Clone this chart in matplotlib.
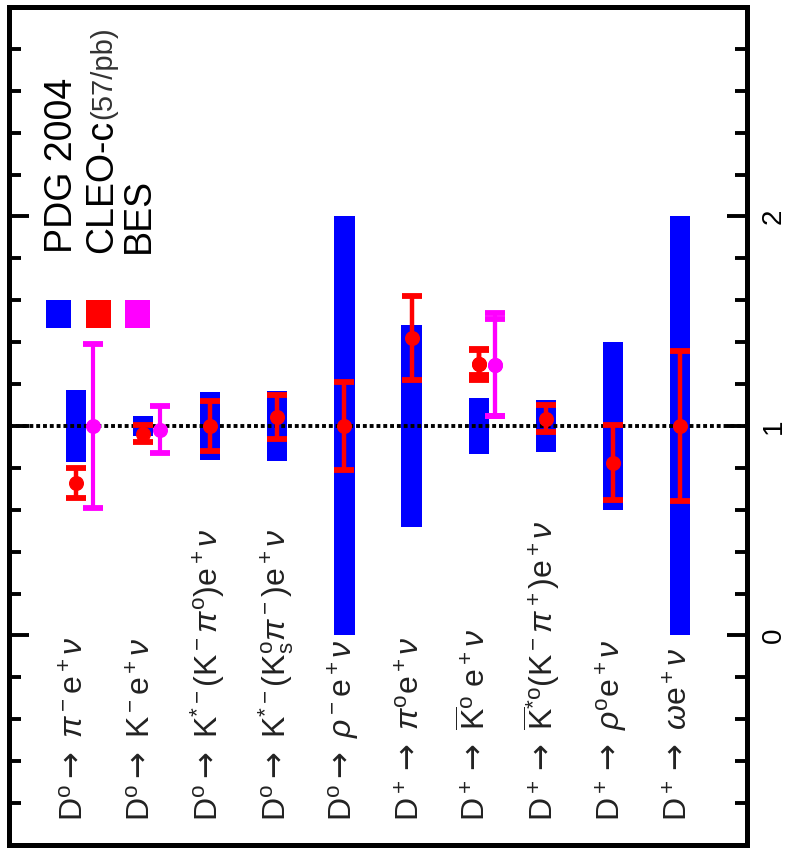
import numpy as np
import matplotlib
matplotlib.use("Agg")
import matplotlib.pyplot as plt

plt.rcParams['font.family'] = ['Liberation Sans', 'DejaVu Sans']
plt.rcParams['mathtext.fontset'] = 'custom'
plt.rcParams['mathtext.rm'] = 'Liberation Sans'
plt.rcParams['mathtext.it'] = 'Liberation Sans:italic'
plt.rcParams['mathtext.sf'] = 'DejaVu Sans'

# decay modes (one column each)
modes = [
    r'$\mathrm{D^o\mathsf{\rightarrow}\ \mathit{\pi}^-e^+\mathit{\nu}}$',
    r'$\mathrm{D^o\mathsf{\rightarrow}\ K^-e^+\mathit{\nu}}$',
    r'$\mathrm{D^o\mathsf{\rightarrow}\ K^{*-}(K^-\mathit{\pi}^o)e^+\mathit{\nu}}$',
    r'$\mathrm{D^o\mathsf{\rightarrow}\ K^{*-}(K^o_s\mathit{\pi}^-)e^+\mathit{\nu}}$',
    r'$\mathrm{D^o\mathsf{\rightarrow}\ \mathit{\rho}^-e^+\mathit{\nu}}$',
    r'$\mathrm{D^+\mathsf{\rightarrow}\ \mathit{\pi}^oe^+\mathit{\nu}}$',
    r'$\mathrm{D^+\mathsf{\rightarrow}\ \overline{K}^o\ e^+\mathit{\nu}}$',
    r'$\mathrm{D^+\mathsf{\rightarrow}\ \overline{K}^{*o}(K^-\mathit{\pi}^+)e^+\mathit{\nu}}$',
    r'$\mathrm{D^+\mathsf{\rightarrow}\ \mathit{\rho}^oe^+\mathit{\nu}}$',
    r'$\mathrm{D^+\mathsf{\rightarrow}\ \mathit{\omega} e^+\mathit{\nu}}$',
]

# PDG 2004 (normalised to 1)
pdg_val = [1.0, 1.0, 1.0, 1.0, 1.0, 1.0, 1.0, 1.0, 1.0, 1.0]
pdg_err = [0.17, 0.05, 0.16, 0.165, 1.0, 0.48, 0.135, 0.125, 0.40, 1.0]

# CLEO-c (57/pb)
cleo_val = [0.73, 0.963, 1.0, 1.045, 1.0, 1.42, 1.297, 1.035, 0.825, 1.0]
cleo_lo = [0.075, 0.04, 0.12, 0.105, 0.21, 0.20, 0.076, 0.065, 0.18, 0.36]
cleo_hi = [0.068, 0.04, 0.12, 0.105, 0.21, 0.20, 0.072, 0.065, 0.18, 0.36]
# inner (statistical) error on the Kbar0 mode
cleo_k0_inner = [0.052, 0.066]

# BES
bes_mode = [1, 2, 7]
bes_val = [1.0, 0.983, 1.289]
bes_lo = [0.39, 0.113, 0.24]
bes_hi = [0.39, 0.111, 0.25]
bes_k0_inner = [0.24, 0.22]

blue = '#0000ff'
red = '#ff0000'
magenta = '#ff00ff'

x = np.arange(1, len(modes) + 1)

fig = plt.figure(figsize=(7.89, 8.61), dpi=100)
ax = fig.add_axes([0.0114, 0.0186, 0.9354, 0.9733])

ax.bar(x, 2 * np.array(pdg_err), bottom=np.array(pdg_val) - np.array(pdg_err),
       width=0.3, color=blue, zorder=1)

ax.axhline(1.0, color='black', lw=2.8, ls=(0, (1, 0.75)), zorder=2)

eb = dict(fmt='o', ms=9.8, elinewidth=3.2, capsize=7.5, capthick=4.2, zorder=3)
ax.errorbar(x, cleo_val, yerr=[cleo_lo, cleo_hi], color=red, **eb)
ax.errorbar([x[6]], [cleo_val[6]], yerr=[[cleo_k0_inner[0]], [cleo_k0_inner[1]]],
            color=red, **eb)

bx = np.array(bes_mode) + 0.25
eb['elinewidth'] = 3.0
ax.errorbar(bx, bes_val, yerr=[bes_lo, bes_hi], color=magenta, **eb)
ax.errorbar([bx[2]], [bes_val[2]], yerr=[[bes_k0_inner[0]], [bes_k0_inner[1]]],
            color=magenta, **eb)

# legend keys and text
ax.bar([0.74, 1.33, 1.92], [0.134] * 3, bottom=1.466, width=0.37,
       color=[blue, red, magenta], zorder=1)
lab_kw = dict(rotation=90, rotation_mode='anchor', ha='left', va='baseline')
ax.text(0.94, 1.828, 'PDG 2004', fontsize=27, **lab_kw)
t_cleo = ax.text(1.53, 1.828, 'CLEO-c', fontsize=27, **lab_kw)
ax.annotate('(57/pb)', xy=(1.53, 1.0), xycoords=('data', t_cleo),
            fontsize=21, color='#333333', **lab_kw)
ax.text(2.09, 1.828, 'BES', fontsize=27, **lab_kw)

for xi, name in zip(x, modes):
    ax.text(xi + 0.115, -0.886, name, fontsize=23, color='#222222', **lab_kw)

ax.set_xlim(0, 11)
ax.set_ylim(-1, 3)
ax.set_xticks([])
ax.set_yticks([0, 1, 2])
ax.set_yticks(np.arange(-1, 3.01, 0.2), minor=True)
ax.tick_params(axis='y', which='both', direction='in', left=True, right=True,
               labelleft=False, labelright=True, labelrotation=90, width=2.8)
ax.tick_params(axis='y', which='major', length=14.5, labelsize=20, pad=10)
ax.tick_params(axis='y', which='minor', length=8.5)
for lab in ax.get_yticklabels():
    lab.set_va('center')
for s in ax.spines.values():
    s.set_linewidth(3.6)

fig.savefig('out.png', dpi=100)
